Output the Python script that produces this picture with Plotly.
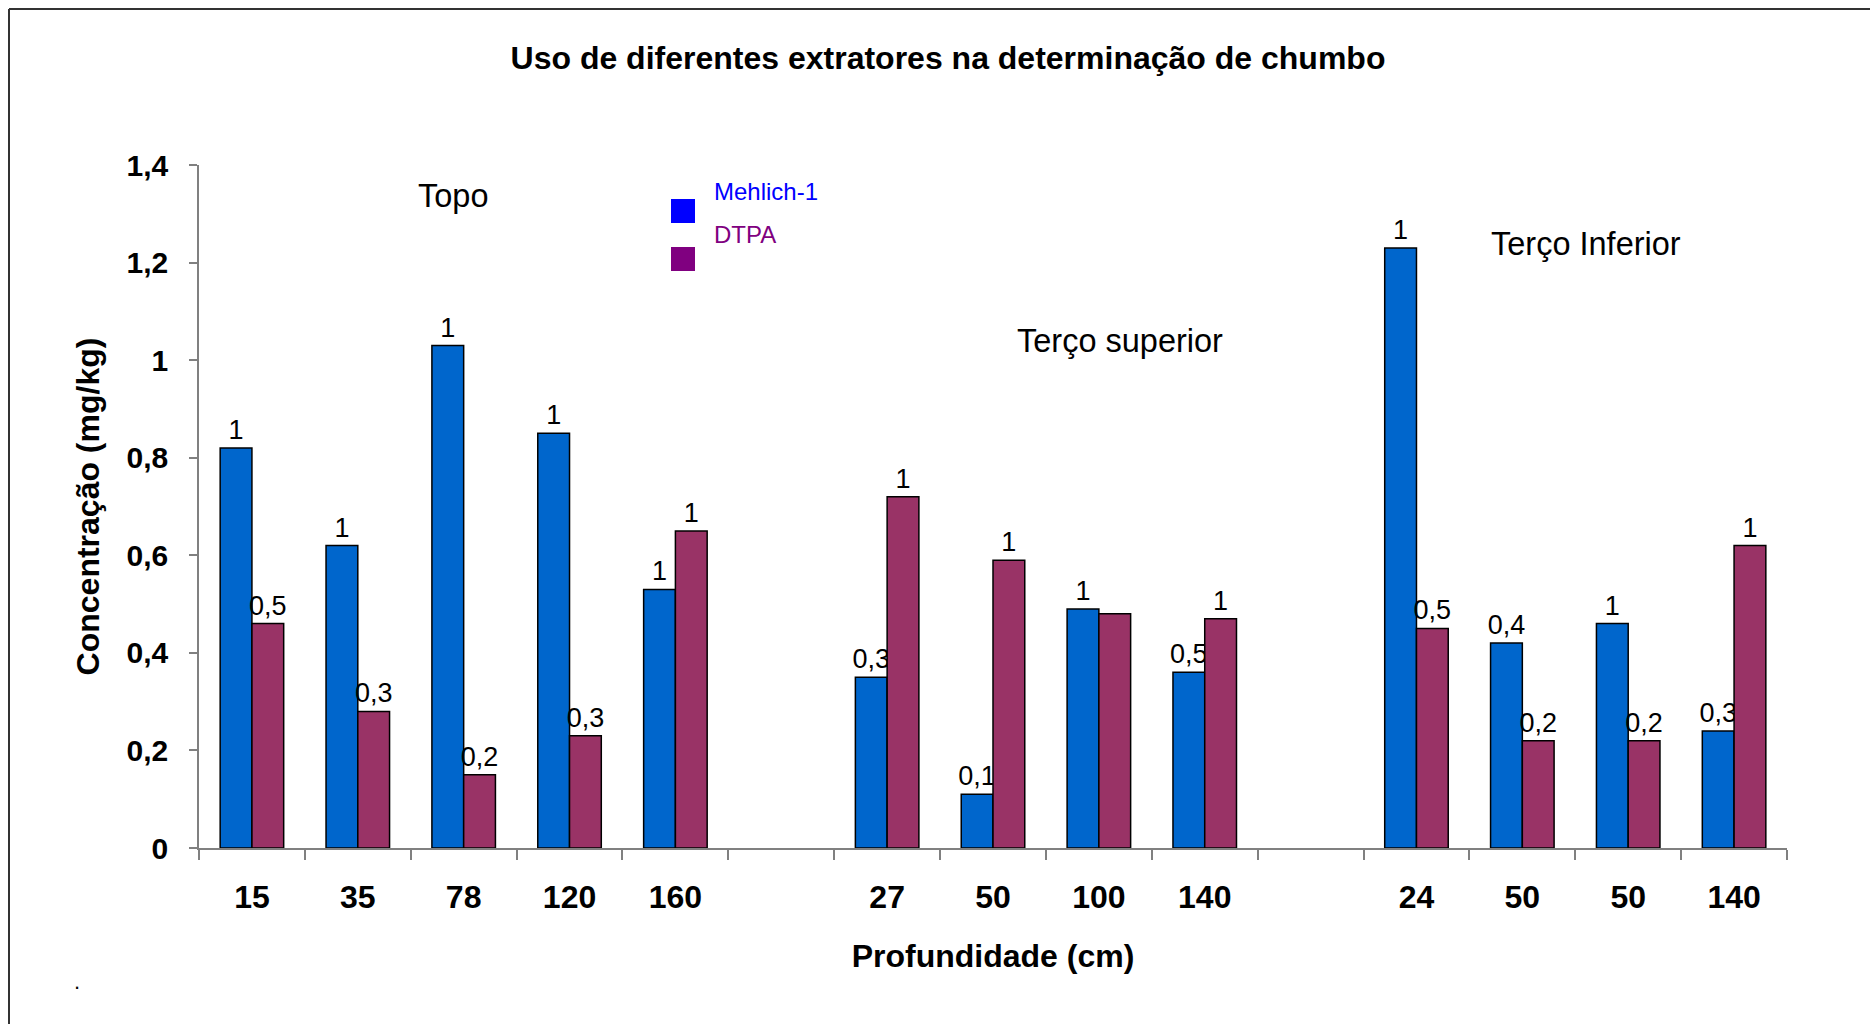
import plotly.graph_objects as go

# ---- data ----
groups = ["Topo", "Terço superior", "Terço Inferior"]
depths_topo = ["15", "35", "78", "120", "160"]
depths_sup = ["27", "50", "100", "140"]
depths_inf = ["24", "50", "50", "140"]

mehlich_topo = [0.82, 0.62, 1.03, 0.85, 0.53]
mehlich_sup = [0.35, 0.11, 0.49, 0.36]
mehlich_inf = [1.23, 0.42, 0.46, 0.24]

dtpa_topo = [0.46, 0.28, 0.15, 0.23, 0.65]
dtpa_sup = [0.72, 0.59, 0.48, 0.47]
dtpa_inf = [0.45, 0.22, 0.22, 0.62]

mehlich_lbl_topo = ["1", "1", "1", "1", "1"]
mehlich_lbl_sup = ["0,3", "0,1", "1", "0,5"]
mehlich_lbl_inf = ["1", "0,4", "1", "0,3"]

dtpa_lbl_topo = ["0,5", "0,3", "0,2", "0,3", "1"]
dtpa_lbl_sup = ["1", "1", "", "1"]
dtpa_lbl_inf = ["0,5", "0,2", "0,2", "1"]

y_ticks = [0, 0.2, 0.4, 0.6, 0.8, 1.0, 1.2, 1.4]

# ---- build positions (one empty slot between groups) ----
depth_groups = [depths_topo, depths_sup, depths_inf]
m_groups = [mehlich_topo, mehlich_sup, mehlich_inf]
d_groups = [dtpa_topo, dtpa_sup, dtpa_inf]
ml_groups = [mehlich_lbl_topo, mehlich_lbl_sup, mehlich_lbl_inf]
dl_groups = [dtpa_lbl_topo, dtpa_lbl_sup, dtpa_lbl_inf]

xs, tick_text, m_vals, d_vals, m_lbl, d_lbl = [], [], [], [], [], []
pos = 0
for gi, dg in enumerate(depth_groups):
    for k, lab in enumerate(dg):
        xs.append(pos)
        tick_text.append(lab)
        m_vals.append(m_groups[gi][k])
        d_vals.append(d_groups[gi][k])
        m_lbl.append(ml_groups[gi][k])
        d_lbl.append(dl_groups[gi][k])
        pos += 1
    if gi < len(depth_groups) - 1:
        pos += 1
n_slots = pos

FONT = "Liberation Sans, Arial, sans-serif"

fig = go.Figure()
fig.add_trace(go.Bar(
    x=xs, y=m_vals, name="Mehlich-1", text=m_lbl, textposition="outside",
    textfont=dict(family=FONT, size=27, color="black"),
    marker=dict(color="#0066CC", line=dict(color="black", width=1.5)),
    cliponaxis=False, constraintext="none", showlegend=False,
))
fig.add_trace(go.Bar(
    x=xs, y=d_vals, name="DTPA", text=d_lbl, textposition="outside",
    textfont=dict(family=FONT, size=27, color="black"),
    marker=dict(color="#993366", line=dict(color="black", width=1.5)),
    cliponaxis=False, constraintext="none", showlegend=False,
))

W, H = 1870, 1024
ML, MR, MT, MB = 199, 83, 165, 176
pw, ph = W - ML - MR, H - MT - MB

def px(xp):
    return (xp - ML) / pw

def py(yp):
    return (H - MB - yp) / ph

fig.update_layout(
    width=W, height=H,
    margin=dict(l=ML, r=MR, t=MT, b=MB),
    paper_bgcolor="white", plot_bgcolor="white",
    barmode="group", bargap=0.4, bargroupgap=0,
    separators=",.",
    font=dict(family=FONT, color="black"),
    title=dict(
        text="<b>Uso de diferentes extratores na determinação de chumbo</b>",
        x=948 / W, xanchor="center", y=1 - 58 / H, yanchor="middle",
        font=dict(size=32, family=FONT, color="black"),
    ),
    xaxis=dict(
        range=[-0.5, n_slots - 0.5],
        tickmode="array", tickvals=xs, ticktext=tick_text,
        ticks="", showgrid=False, zeroline=False,
        showline=True, linecolor="#808080", linewidth=1.5,
        tickfont=dict(size=32, family=FONT, color="black", weight="bold"),
        ticklabelstandoff=20,
        minor=dict(tickmode="linear", tick0=-0.5, dtick=1, ticks="outside",
                   ticklen=10, tickcolor="#808080", tickwidth=1.5, showgrid=False),
        title=dict(text="<b>Profundidade (cm)</b>", standoff=30,
                   font=dict(size=32, family=FONT, color="black")),
    ),
    yaxis=dict(
        range=[0, 1.4], tickmode="array", tickvals=y_ticks,
        ticks="outside", ticklen=8, tickcolor="#808080", tickwidth=1.5,
        showgrid=False, zeroline=False,
        showline=True, linecolor="#808080", linewidth=1.5,
        tickfont=dict(size=30, family=FONT, color="black", weight="bold"),
        ticklabelstandoff=15,
        title=dict(text="<b>Concentração (mg/kg)</b>", standoff=17,
                   font=dict(size=32, family=FONT, color="black")),
    ),
)

# group annotations
ann = [
    dict(text=groups[0], x=px(453), y=py(196)),
    dict(text=groups[1], x=px(1120), y=py(341)),
    dict(text=groups[2], x=px(1586), y=py(244)),
]
for a in ann:
    fig.add_annotation(xref="paper", yref="paper", showarrow=False,
                       xanchor="center", yanchor="middle",
                       font=dict(size=32.5, family=FONT, color="black"), **a)

# legend (drawn as in the original: squares with offset labels)
leg_items = [("Mehlich-1", "#0000FF", "#0000FF", 199, 192),
             ("DTPA", "#800080", "#800080", 247, 235)]
for name, sq_col, txt_col, sq_top, txt_y in leg_items:
    fig.add_shape(type="rect", xref="paper", yref="paper",
                  x0=px(671), x1=px(695), y0=py(sq_top + 24), y1=py(sq_top),
                  fillcolor=sq_col, line=dict(width=0))
    fig.add_annotation(xref="paper", yref="paper", showarrow=False,
                       x=px(712), y=py(txt_y), xanchor="left", yanchor="middle",
                       text=name, font=dict(size=24, family=FONT, color=txt_col))

# outer frame (extends past the page at right/bottom)
fig.add_shape(type="line", xref="paper", yref="paper",
              x0=px(9), x1=px(W + 10), y0=py(9), y1=py(9),
              line=dict(color="#333333", width=2))
fig.add_shape(type="line", xref="paper", yref="paper",
              x0=px(9), x1=px(9), y0=py(9), y1=py(H + 10),
              line=dict(color="#333333", width=2))

fig.add_annotation(xref="paper", yref="paper", showarrow=False,
                   x=px(72), y=py(996), text=".", font=dict(size=22, family=FONT))

fig.write_html("out.html")
